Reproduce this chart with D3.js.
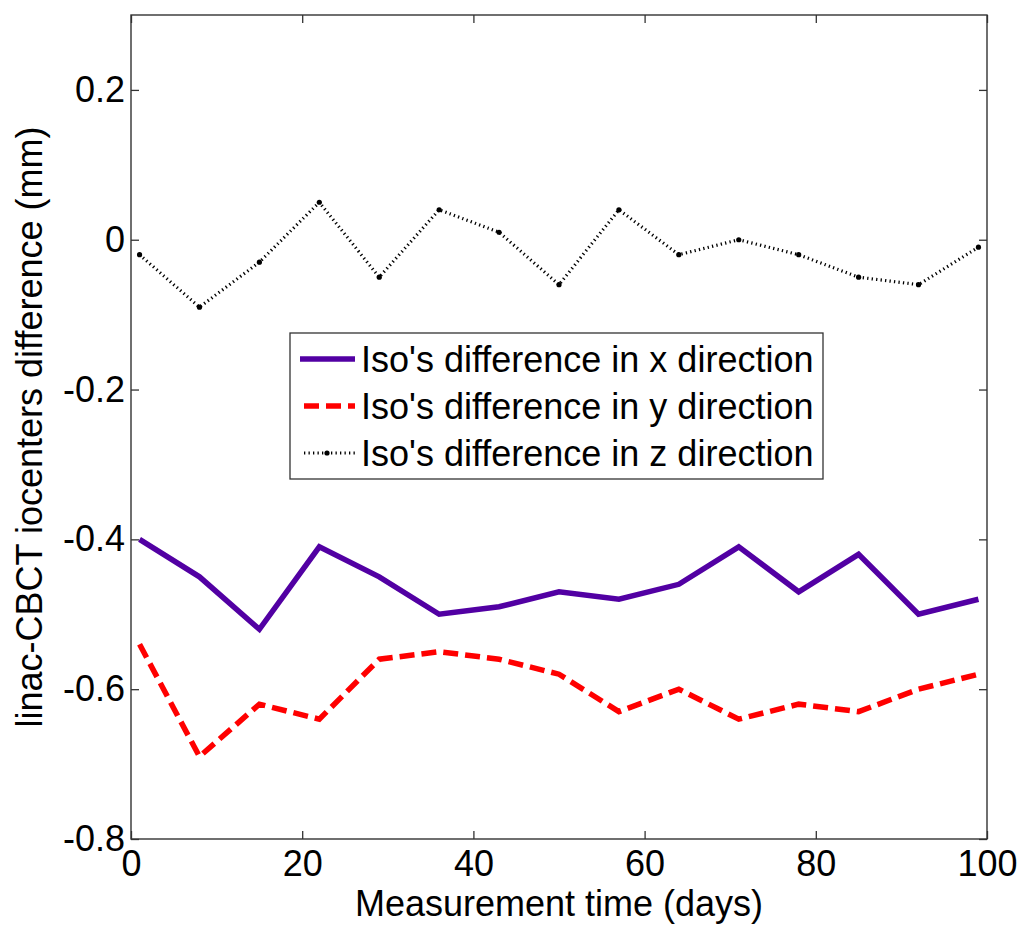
<!DOCTYPE html>
<html>
<head>
<meta charset="utf-8">
<script src="https://cdn.jsdelivr.net/npm/d3@7"></script>
<style>
  body { margin: 0; background: #fff; }
  text { font-family: "Liberation Sans", Arial, sans-serif; fill: #000; }
</style>
</head>
<body>
<svg id="chart"></svg>
<script>
const width = 1034;
const height = 926;

// measurement days
const days = [1, 8, 15, 22, 29, 36, 43, 50, 57, 64, 71, 78, 85, 92, 99];
// iso difference per direction (mm)
const xDiff = [-0.40, -0.45, -0.52, -0.41, -0.45, -0.50, -0.49, -0.47, -0.48, -0.46, -0.41, -0.47, -0.42, -0.50, -0.48];
const yDiff = [-0.54, -0.69, -0.62, -0.64, -0.56, -0.55, -0.56, -0.58, -0.63, -0.60, -0.64, -0.62, -0.63, -0.60, -0.58];
const zDiff = [-0.02, -0.09, -0.03, 0.05, -0.05, 0.04, 0.01, -0.06, 0.04, -0.02, 0.00, -0.02, -0.05, -0.06, -0.01];

const xTicks = [0, 20, 40, 60, 80, 100];
const yTicks = [-0.8, -0.6, -0.4, -0.2, 0, 0.2];
const legendLabels = ["Iso's difference in x direction", "Iso's difference in y direction", "Iso's difference in z direction"];

const margin = {top: 15, right: 47, bottom: 87, left: 131};
const w = width - margin.left - margin.right;
const h = height - margin.top - margin.bottom;

const svg = d3.select("#chart")
  .attr("width", width)
  .attr("height", height);

const g = svg.append("g")
  .attr("transform", `translate(${margin.left},${margin.top})`);

const x = d3.scaleLinear().domain([0, 100]).range([0, w]);
const y = d3.scaleLinear().domain([-0.8, 0.3]).range([h, 0]);

// plain hyphen for negatives, like the original
const fmt = d => d === 0 ? "0" : d.toFixed(1);

// axes with inward ticks, mirrored on top/right
g.append("g")
  .attr("transform", `translate(0,${h})`)
  .call(d3.axisBottom(x).tickValues(xTicks).tickSize(-8).tickPadding(11).tickFormat(d => d))
  .call(a => a.selectAll("text").attr("font-size", 36));
g.append("g")
  .call(d3.axisTop(x).tickValues(xTicks).tickSize(-8).tickFormat(""));
g.append("g")
  .call(d3.axisLeft(y).tickValues(yTicks).tickSize(-8).tickPadding(6).tickFormat(fmt))
  .call(a => a.selectAll("text").attr("font-size", 36));
g.append("g")
  .attr("transform", `translate(${w},0)`)
  .call(d3.axisRight(y).tickValues(yTicks).tickSize(-8).tickFormat(""));

g.selectAll(".domain").remove();
g.selectAll(".tick line").attr("stroke", "#333").attr("stroke-width", 1.3);

g.append("rect")
  .attr("width", w).attr("height", h)
  .attr("fill", "none")
  .attr("stroke", "#333")
  .attr("stroke-width", 1.4);

// labels
svg.append("text")
  .attr("x", margin.left + w / 2)
  .attr("y", 916)
  .attr("text-anchor", "middle")
  .attr("font-size", 36)
  .text("Measurement time (days)");

svg.append("text")
  .attr("transform", `translate(42,${margin.top + h / 2}) rotate(-90)`)
  .attr("text-anchor", "middle")
  .attr("font-size", 36)
  .text("linac-CBCT iocenters difference (mm)");

const line = d3.line()
  .x(d => x(d[0]))
  .y(d => y(d[1]));

const series = [
  {values: xDiff, color: "#5200a3", width: 5.5, dash: null},
  {values: yDiff, color: "#ff0000", width: 5.5, dash: "15,7"},
  {values: zDiff, color: "#000", width: 3.2, dash: "1.3,3.2", marker: true}
];

series.forEach(s => {
  const pts = days.map((d, i) => [d, s.values[i]]);
  g.append("path")
    .datum(pts)
    .attr("d", line)
    .attr("fill", "none")
    .attr("stroke", s.color)
    .attr("stroke-width", s.width)
    .attr("stroke-dasharray", s.dash);
  if (s.marker) {
    g.selectAll(null)
      .data(pts)
      .join("circle")
      .attr("cx", d => x(d[0]))
      .attr("cy", d => y(d[1]))
      .attr("r", 2.6)
      .attr("fill", "#000");
  }
});

// legend
const legend = svg.append("g").attr("transform", "translate(290,333)");
legend.append("rect")
  .attr("width", 533).attr("height", 146)
  .attr("fill", "#fff")
  .attr("stroke", "#333")
  .attr("stroke-width", 1.3);

series.forEach((s, i) => {
  const ly = 26 + i * 47;
  legend.append("line")
    .attr("x1", s.dash ? 14 : 10).attr("x2", 65)
    .attr("y1", ly).attr("y2", ly)
    .attr("stroke", s.color)
    .attr("stroke-width", s.width)
    .attr("stroke-dasharray", s.dash);
  if (s.marker) {
    legend.append("circle").attr("cx", 37).attr("cy", ly).attr("r", 2.6).attr("fill", "#000");
  }
  legend.append("text")
    .attr("x", 71)
    .attr("y", ly + 13)
    .attr("font-size", 36)
    .text(legendLabels[i]);
});
</script>
</body>
</html>
